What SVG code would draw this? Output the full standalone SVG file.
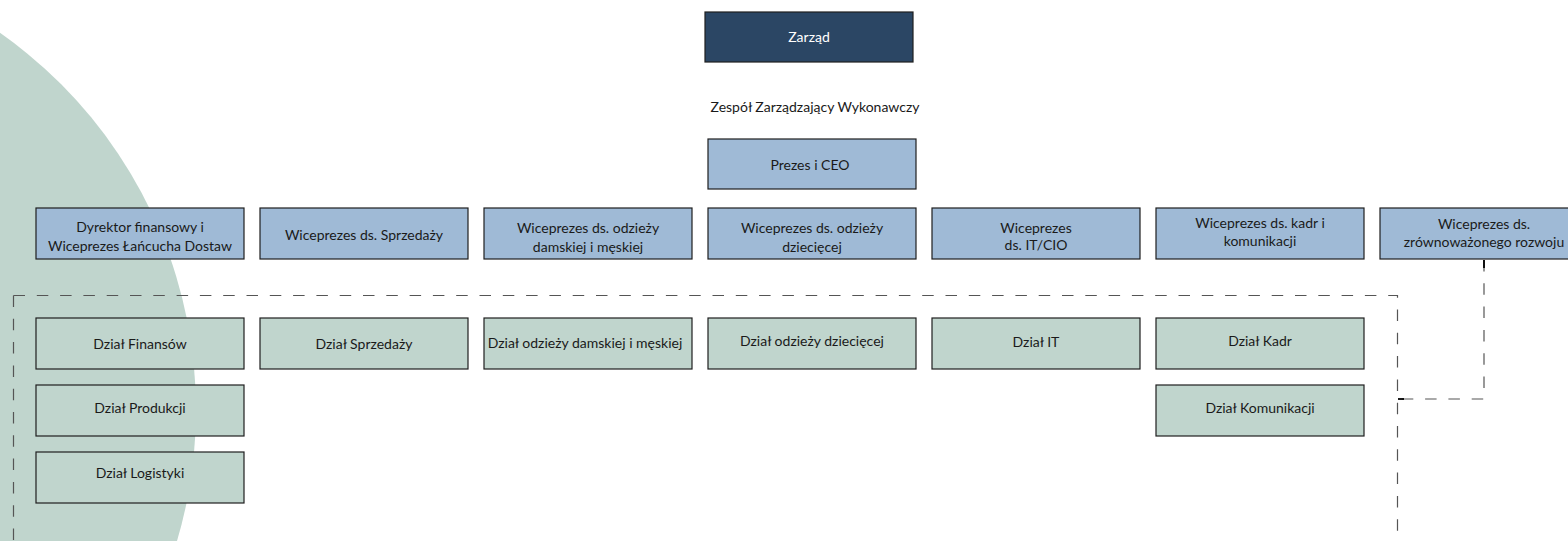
<svg xmlns="http://www.w3.org/2000/svg" width="1568" height="541" viewBox="0 0 1568 541">
<style>
.box{stroke:#1e1e1e;stroke-width:1.2}
.board{fill:#2b4664}
.exec{fill:#9fbad6}
.dept{fill:#c0d5cd}
.t{font-family:Lato,"Noto Sans",sans-serif;font-size:14px;fill:#1a1a1a;text-anchor:middle}
.tw{fill:#ffffff}
.dash{fill:none;stroke:#555555;stroke-width:1.2;stroke-dasharray:11.5 11.8}
.tick{stroke:#000000;stroke-width:1.8}
</style>
<rect width="1568" height="541" fill="#ffffff"/>
<circle cx="-265" cy="410" r="461" fill="#c0d5cd"/>
<g id="connectors">
<path class="dash" d="M13.5,295.5 H1397.5 V541"/>
<path class="dash" d="M13.5,295.5 V541"/>
<path class="dash" d="M1484,260 V399 H1398"/>
<line class="tick" x1="1484" y1="260" x2="1484" y2="268"/>
<line class="tick" x1="1398" y1="399" x2="1404" y2="399"/>
</g>
<g id="zarzad"><rect class="box board" x="705" y="12" width="208" height="50"/><text class="t tw" x="809" y="42">Zarząd</text></g>
<g id="zespol"><text class="t" x="815" y="112">Zespół Zarządzający Wykonawczy</text></g>
<g id="prezes"><rect class="box exec" x="708" y="139" width="208" height="50"/><text class="t" x="810" y="170">Prezes i CEO</text></g>
<g id="vp-fin"><rect class="box exec" x="36" y="208" width="208" height="51"/><text class="t" x="140" y="231.5"><tspan x="140">Dyrektor finansowy i</tspan><tspan x="140" dy="19.5">Wiceprezes Łańcucha Dostaw</tspan></text></g>
<g id="vp-sales"><rect class="box exec" x="260" y="208" width="208" height="51"/><text class="t" x="364" y="240">Wiceprezes ds. Sprzedaży</text></g>
<g id="vp-adult"><rect class="box exec" x="484" y="208" width="208" height="51"/><text class="t" x="588" y="233"><tspan x="588">Wiceprezes ds. odzieży</tspan><tspan x="588" dy="18.5">damskiej i męskiej</tspan></text></g>
<g id="vp-kids"><rect class="box exec" x="708" y="208" width="208" height="51"/><text class="t" x="812" y="233"><tspan x="812">Wiceprezes ds. odzieży</tspan><tspan x="812" dy="18.5">dziecięcej</tspan></text></g>
<g id="vp-it"><rect class="box exec" x="932" y="208" width="208" height="51"/><text class="t" x="1036" y="233"><tspan x="1036">Wiceprezes</tspan><tspan x="1036" dy="17">ds. IT/CIO</tspan></text></g>
<g id="vp-hr"><rect class="box exec" x="1156" y="208" width="208" height="51"/><text class="t" x="1260" y="228"><tspan x="1260">Wiceprezes ds. kadr i</tspan><tspan x="1260" dy="17.5">komunikacji</tspan></text></g>
<g id="vp-sust"><rect class="box exec" x="1380" y="208" width="208" height="51"/><text class="t" x="1484" y="229"><tspan x="1484">Wiceprezes ds.</tspan><tspan x="1484" dy="17.5">zrównoważonego rozwoju</tspan></text></g>
<g id="d-fin"><rect class="box dept" x="36" y="318" width="208" height="51"/><text class="t" x="140" y="349">Dział Finansów</text></g>
<g id="d-prod"><rect class="box dept" x="36" y="385" width="208" height="51"/><text class="t" x="140" y="412.5">Dział Produkcji</text></g>
<g id="d-log"><rect class="box dept" x="36" y="452" width="208" height="51"/><text class="t" x="140" y="478">Dział Logistyki</text></g>
<g id="d-sales"><rect class="box dept" x="260" y="318" width="208" height="51"/><text class="t" x="364" y="349">Dział Sprzedaży</text></g>
<g id="d-adult"><rect class="box dept" x="484" y="318" width="208" height="51"/><text class="t" x="585" y="348">Dział odzieży damskiej i męskiej</text></g>
<g id="d-kids"><rect class="box dept" x="708" y="318" width="208" height="51"/><text class="t" x="812" y="346">Dział odzieży dziecięcej</text></g>
<g id="d-it"><rect class="box dept" x="932" y="318" width="208" height="51"/><text class="t" x="1036" y="346.5">Dział IT</text></g>
<g id="d-hr"><rect class="box dept" x="1156" y="318" width="208" height="51"/><text class="t" x="1260" y="346">Dział Kadr</text></g>
<g id="d-comm"><rect class="box dept" x="1156" y="385" width="208" height="51"/><text class="t" x="1260" y="413">Dział Komunikacji</text></g>
</svg>
